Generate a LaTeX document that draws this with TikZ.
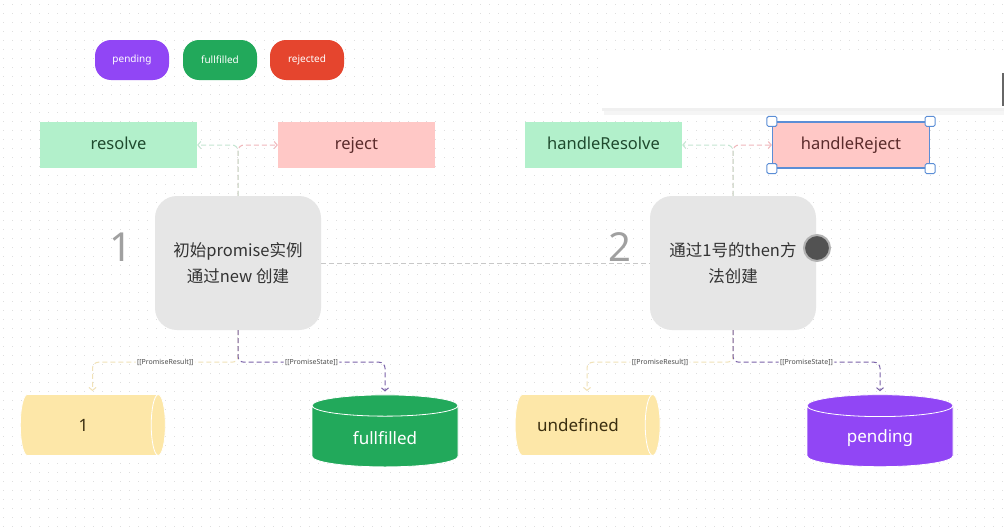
\documentclass[tikz,border=0pt]{standalone}
\usepackage{fontspec}
\setmainfont{Noto Sans}
\newfontfamily\cjk{Noto Sans CJK SC}
\usetikzlibrary{arrows.meta,calc,positioning,shapes.geometric}
\definecolor{pendPurple}{HTML}{9146F5}
\definecolor{fullGreen}{HTML}{22A95B}
\definecolor{rejRed}{HTML}{E5452E}
\definecolor{resFill}{HTML}{B2F0CB}
\definecolor{resText}{HTML}{1F4A2E}
\definecolor{rejFill}{HTML}{FFC8C6}
\definecolor{rejText}{HTML}{5A2B2B}
\definecolor{stepGray}{HTML}{E6E6E6}
\definecolor{numGray}{HTML}{A0A0A0}
\definecolor{valYellow}{HTML}{FDE7A8}
\definecolor{valText}{HTML}{3A2E10}
\definecolor{selBlue}{HTML}{5B8ED6}
\definecolor{linkMint}{HTML}{C5E6D2}
\definecolor{linkPink}{HTML}{F0B8BC}
\definecolor{linkYellow}{HTML}{F1E2B8}
\definecolor{linkPurple}{HTML}{7A62A8}
\definecolor{linkGray}{HTML}{C8C8C8}

\tikzset{
  pill/.style={rounded corners=16pt,minimum width=74pt,minimum height=40pt,text=white,
    font=\fontsize{10pt}{12pt}\selectfont},
  fnBox/.style={minimum width=157pt,minimum height=46pt,text height=12pt,text depth=3pt,
    font=\fontsize{16.5pt}{19pt}\selectfont},
  stepBox/.style={fill=stepGray,rounded corners=22pt,minimum width=166pt,minimum height=134pt,
    align=center,text=black!80,font=\cjk\fontsize{16.5pt}{26pt}\selectfont},
  stepNum/.style={text=numGray,font=\fontsize{40pt}{42pt}\selectfont},
  valCyl/.style={cylinder,draw=white,line width=0.8pt,fill=valYellow,text=valText,aspect=0.75,
    minimum width=61pt,minimum height=145pt,font=\fontsize{17pt}{19pt}\selectfont},
  stateCyl/.style={cylinder,shape border rotate=90,draw=white,line width=0.8pt,text=white,aspect=0.3,
    minimum width=146pt,minimum height=72pt,font=\fontsize{17pt}{19pt}\selectfont},
  link/.style={dashed,dash pattern=on 5pt off 3pt,line width=1pt,rounded corners=6pt,
    -{Straight Barb[length=3pt,width=7pt]}},
  slotLabel/.style={fill=white,inner sep=1.5pt,text=black!70,font=\bfseries\fontsize{7pt}{8pt}\selectfont},
  handleSq/.style={draw=selBlue,fill=white,line width=1pt,rounded corners=1.5pt,
    minimum size=10pt,inner sep=0pt}
}

\begin{document}
\begin{tikzpicture}[x=1pt,y=-1pt]
  \useasboundingbox[fill=white] (0,0) rectangle (1004,530);
  % dot grid
  \foreach \r in {0,...,58}
    \draw[black!13,line width=0.9pt,dash pattern=on 0.9pt off 8.1pt] (3,{4+9*\r}) -- (1004,{4+9*\r});

  % floating panel
  \fill[black!4] (604,58) rectangle (1004,115);
  \fill[black!6] (602,55) rectangle (1004,111);
  \fill[white] (598,50) rectangle (1004,108);
  \draw[black!60,line width=1.4pt] (1003,73) -- (1003,106);

  % legend
  \node[pill,fill=pendPurple] (pillPending) at (132,60) {pending};
  \node[pill,fill=fullGreen]  (pillFull)    at (220,60) {fullfilled};
  \node[pill,fill=rejRed]     (pillRej)     at (307,60) {rejected};

  % promise 1
  \node[stepBox] (stepOne) at (238,263) {初始promise实例\\通过new 创建};
  \node[stepNum] (numOne) at (121,247) {1};
  \node[fnBox,fill=resFill,text=resText] (resolve) at (118.5,145) {resolve};
  \node[fnBox,fill=rejFill,text=rejText] (reject)  at (356.5,145) {reject};
  \node[valCyl] (valOne) at (87.5,425) {\hspace*{-8pt}1};
  \node[stateCyl,fill=fullGreen] (stateOne) at (385,438) {fullfilled};

  % promise 2
  \node[stepBox] (stepTwo) at (733,263) {通过1号的then方\\法创建};
  \node[stepNum] (numTwo) at (620,247) {2};
  \node[fnBox,fill=resFill,text=resText] (handleResolve) at (603.5,145) {handleResolve};
  \node[fnBox,fill=rejFill,text=rejText,draw=selBlue,line width=1.2pt] (handleReject) at (851,145) {handleReject};
  \foreach \a/\n in {north west/nw,north east/ne,south west/sw,south east/se}
    \node[handleSq] (hdl\n) at (handleReject.\a) {};
  \node[valCyl] (valTwo) at (582,425) {\hspace*{-8pt}undefined};
  \node[stateCyl,fill=pendPurple] (stateTwo) at (880,438) {pending};
  \node[circle,fill=black!68,draw=black!30,line width=2pt,minimum size=26pt] (dragDot) at (817,248) {};

  % links
  \draw[link,-,linkGray] (stepOne.east) -- (stepTwo.west);
  \foreach \s/\r/\j in {stepOne/resolve/reject,stepTwo/handleResolve/handleReject}{
    \draw[link,linkPink] (\s.north) |- (\j.west);
    \draw[link,linkMint] (\s.north) |- (\r.east);
  }
  \draw[link,linkYellow,shorten >=3pt] (stepOne.south) -- ++(0,32) -| ([xshift=5pt]valOne.north)
    node[slotLabel,pos=0.25] {[[PromiseResult]]};
  \draw[link,linkPurple,shorten >=3pt] (stepOne.south) -- ++(0,32) -| (stateOne.north)
    node[slotLabel,pos=0.25] {[[PromiseState]]};
  \draw[link,linkYellow,shorten >=3pt] (stepTwo.south) -- ++(0,32) -| ([xshift=5pt]valTwo.north)
    node[slotLabel,pos=0.25] {[[PromiseResult]]};
  \draw[link,linkPurple,shorten >=3pt] (stepTwo.south) -- ++(0,32) -| (stateTwo.north)
    node[slotLabel,pos=0.25] {[[PromiseState]]};
\end{tikzpicture}
\end{document}
